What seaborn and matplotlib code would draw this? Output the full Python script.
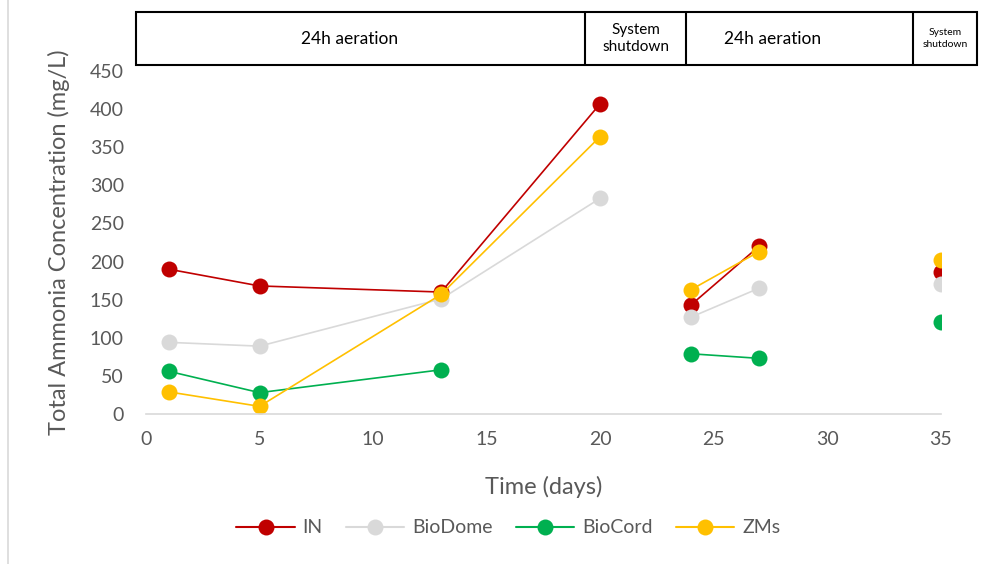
"""
Total ammonia concentration over time for the four media.
"""
import matplotlib.pyplot as plt
import pandas as pd
import numpy as np
import seaborn as sns

days = [1, 5, 13, 20, 24, 27, 35]
# run segments: lines only connect points within the same segment
segment = [0, 0, 0, 0, 1, 1, 2]

in_vals = [190, 168, 160, 407, 143, 220, 186]
biodome_vals = [94, 89, 151, 283, 127, 165, 171]
biocord_vals = [56, 28, 58, np.nan, 79, 73, 121]
zms_vals = [29, 10, 157, 364, 163, 213, 202]

series_names = ["IN", "BioDome", "BioCord", "ZMs"]
series_vals = [in_vals, biodome_vals, biocord_vals, zms_vals]
colors = ["#C00000", "#D9D9D9", "#00B050", "#FFC000"]

phase_labels = ["24h aeration", "System\nshutdown", "24h aeration", "System\nshutdown"]

if __name__ == "__main__":
    rows = []
    for name, vals in zip(series_names, series_vals):
        for d, s, v in zip(days, segment, vals):
            rows.append({"day": d, "seg": s, "series": name, "value": v})
    df = pd.DataFrame(rows).dropna()

    sns.set_style("white")
    plt.rcParams["font.family"] = ["Lato", "DejaVu Sans"]
    text_color = "#595959"

    fig = plt.figure(figsize=(9.87, 5.64), dpi=100)
    ax = fig.add_axes([0.148, 0.266, 0.805, 0.608])

    for name, color in zip(series_names, colors):
        sub = df[df["series"] == name]
        sns.lineplot(
            data=sub, x="day", y="value", units="seg", estimator=None,
            color=color, linewidth=1.2, marker="o", markersize=11.5,
            markeredgewidth=0, ax=ax, label=None,
        )

    ax.set_xlim(0, 35)
    ax.set_ylim(0, 450)
    ax.set_xticks([0, 5, 10, 15, 20, 25, 30, 35])
    ax.set_yticks(np.arange(0, 451, 50))
    ax.tick_params(axis="both", colors=text_color, labelsize=14, length=0)
    ax.tick_params(axis="y", pad=16)
    ax.tick_params(axis="x", pad=12)
    for side in ["top", "right", "left"]:
        ax.spines[side].set_visible(False)
    ax.spines["bottom"].set_color("#D9D9D9")
    ax.spines["bottom"].set_linewidth(1.2)
    ax.set_xlabel("Time (days)", fontsize=17, color=text_color, labelpad=20)
    ax.set_ylabel("Total Ammonia Concentration (mg/L)", fontsize=17,
                  color=text_color, labelpad=14)

    # legend
    handles = [
        plt.Line2D([], [], color=c, linewidth=1.5, marker="o", markersize=11.5,
                   markeredgewidth=0)
        for c in colors
    ]
    fig.legend(handles, series_names, loc="center", bbox_to_anchor=(0.515, 0.064),
               ncol=4, frameon=False, fontsize=14, labelcolor=text_color,
               handlelength=3, columnspacing=1.2, handletextpad=0.4)

    # phase boxes on top
    W, H = 987.0, 564.0
    edges = [136, 585, 686, 913, 977]
    y0, y1 = 12, 65
    fy0, fy1 = 1 - y1 / H, 1 - y0 / H
    fig.add_artist(plt.Rectangle((edges[0] / W, fy0), (edges[-1] - edges[0]) / W,
                                 fy1 - fy0, fill=False, edgecolor="black",
                                 linewidth=1.5, transform=fig.transFigure))
    for e in edges[1:-1]:
        fig.add_artist(plt.Line2D([e / W, e / W], [fy0, fy1], color="black",
                                  linewidth=1.5, transform=fig.transFigure))
    label_x = [350, 636, 773, 945]
    label_size = [12.5, 11, 12.5, 7.5]
    for lx, lab, fs in zip(label_x, phase_labels, label_size):
        fig.text(lx / W, (fy0 + fy1) / 2, lab, ha="center", va="center",
                 fontsize=fs, color="black", linespacing=1.3)

    # chart frame edge on the left
    fig.add_artist(plt.Line2D([8 / W, 8 / W], [0, 1], color="#D9D9D9",
                              linewidth=1.2, transform=fig.transFigure))

    plt.savefig("out.png", dpi=100)
